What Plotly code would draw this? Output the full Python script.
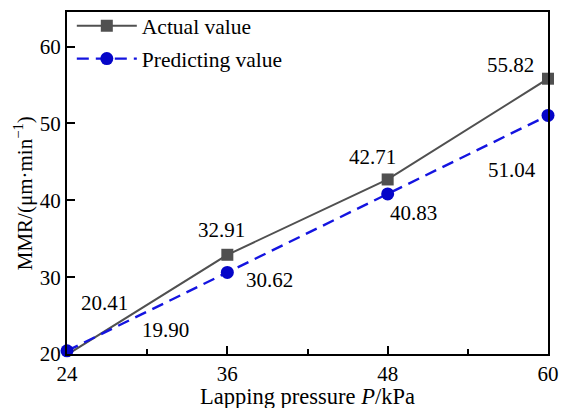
import plotly.graph_objects as go

pressure = [24, 36, 48, 60]
actual = [19.90, 32.91, 42.71, 55.82]
predicted = [20.41, 30.62, 40.83, 51.04]
x_ticks = [24, 36, 48, 60]
x_minor = [30, 42, 54]
y_ticks = [20, 30, 40, 50, 60]

labels = ["55.82", "51.04", "42.71", "40.83", "32.91", "30.62", "20.41", "19.90"]
label_x = [57.16, 57.31, 46.83, 49.97, 35.60, 39.19, 26.84, 31.34]
label_y = [57.66, 43.90, 45.58, 38.31, 36.10, 29.61, 26.62, 23.12]

font = "Liberation Serif"
fig = go.Figure()
fig.add_trace(go.Scatter(
    x=pressure, y=actual, name="Actual value", mode="lines+markers",
    legendgroup="a",
    line=dict(color="#505050", width=2),
    marker=dict(symbol="square", size=12, color="#505050"),
    cliponaxis=False))
fig.add_trace(go.Scatter(
    x=pressure, y=predicted, name="Predicting value", mode="lines+markers",
    legendgroup="p",
    line=dict(color="#1414e0", width=2.4, dash="12px,7px"),
    marker=dict(symbol="circle", size=13, color="#0505c8"),
    cliponaxis=False))

for t, x, y in zip(labels, label_x, label_y):
    fig.add_annotation(x=x, y=y, text=t, showarrow=False,
                       font=dict(family=font, size=21, color="black"))

# axis titles placed as paper-anchored text
fig.add_annotation(x=0.5, y=0, xref="paper", yref="paper", yanchor="middle",
                   yshift=-42, text="Lapping pressure <i>P</i>/kPa",
                   showarrow=False, font=dict(family=font, size=22.5, color="black"))
fig.add_annotation(x=0, y=0.47, xref="paper", yref="paper", xanchor="center",
                   xshift=-44, textangle=-90, text="MMR/(μm·min<sup>−1</sup>)",
                   showarrow=False, font=dict(family=font, size=21, color="black"))

fig.update_layout(
    width=561, height=408,
    margin=dict(l=67, r=13, t=12, b=54, autoexpand=False),
    paper_bgcolor="white", plot_bgcolor="white",
    font=dict(family=font, size=21, color="black"),
    showlegend=True,
    legend=dict(x=0.01, y=1.02, xanchor="left", yanchor="top",
                bgcolor="rgba(0,0,0,0)", font=dict(family=font, size=21.5),
                itemwidth=60, traceorder="grouped", tracegroupgap=2),
    xaxis=dict(range=[24, 60], tickvals=x_ticks, ticks="inside", ticklen=8,
               tickwidth=2, tickcolor="black", showline=True,
               linecolor="black", linewidth=2,
               mirror=True, showgrid=False, zeroline=False,
               minor=dict(tickvals=x_minor, ticks="inside", ticklen=5,
                          tickwidth=2, tickcolor="black"),
               tickfont=dict(family=font, size=21)),
    yaxis=dict(range=[20, 64.5], tickvals=y_ticks, ticks="inside", ticklen=8,
               tickwidth=2, tickcolor="black", showline=True,
               linecolor="black", linewidth=2,
               mirror=True, showgrid=False, zeroline=False,
               tickfont=dict(family=font, size=21)),
)
fig.write_html("out.html", config={"displayModeBar": False},
               post_script="document.body.style.margin='0';document.body.style.padding='0';")
